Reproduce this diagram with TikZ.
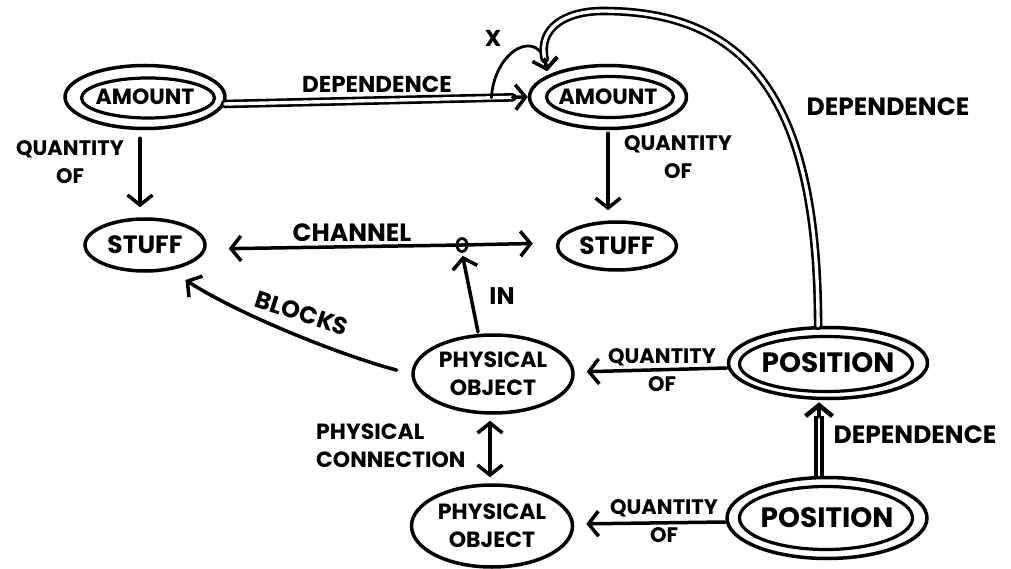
\documentclass[tikz,border=0pt]{standalone}
\usepackage{fontspec}
\setmainfont{Poppins}
\usetikzlibrary{shapes.geometric,arrows.meta,calc}

\tikzset{barb/.tip={Straight Barb[length=10pt, width=25pt]}}

\begin{document}
\begin{tikzpicture}[x=1pt,y=-1pt,
  ink/.style={line width=3.5pt, line cap=round, line join=round},
  fs/.style={font=\bfseries\fontsize{#1}{28}\selectfont},
  blob/.style={ellipse, draw, ink, inner xsep=-30pt, inner ysep=-6pt},
  ring/.style={ink, line width=3.2pt},
  arr/.style={ink, -{barb}},
  dbl/.style={line width=2.6pt, double=white, double distance=3.4pt, line cap=round},
  lbl/.style={align=center, inner sep=0pt}
]
\useasboundingbox (0,0) rectangle (1011,569);

% concept nodes
\node[blob, minimum width=160pt, minimum height=63pt, fs=22] (a1) at (145,97) {AMOUNT};
\draw[ring] (148,98) ellipse [x radius=66.5, y radius=20];
\node[blob, minimum width=157pt, minimum height=63pt, fs=22] (a2) at (608,97) {AMOUNT};
\draw[ring] (610,97) ellipse [x radius=63.5, y radius=20.5];
\node[blob, minimum width=120pt, minimum height=52pt, fs=25] (s1) at (145,245) {STUFF};
\node[blob, minimum width=119pt, minimum height=48pt, fs=25] (s2) at (617,246) {STUFF};
\node[blob, minimum width=160pt, minimum height=78pt, fs=22, align=center] (p1) at (493,374) {PHYSICAL\\OBJECT};
\node[blob, minimum width=161pt, minimum height=82pt, fs=22, align=center] (p2) at (492,526) {PHYSICAL\\OBJECT};
\node[blob, minimum width=199pt, minimum height=71pt, fs=28] (q1) at (828,363) {POSITION};
\draw[ring] (826,364) ellipse [x radius=86.5, y radius=27.5];
\node[blob, minimum width=200pt, minimum height=81pt, fs=28] (q2) at (827,518) {POSITION};
\draw[ring] (826,518) ellipse [x radius=86.5, y radius=31.5];

% channel junction
\node[ellipse, draw, line width=2.8pt, minimum width=10pt, minimum height=13pt, inner sep=0pt] (ch) at (462,245) {};

% helper points where double shafts hand over to their arrow heads
\path (a1.-5) -- (a2.west) coordinate[pos=0.95] (a2pre);
\path (a1.-5) -- (a2.west) coordinate[pos=0.88] (xs);
\coordinate (a2top) at ($(a2.160)+(-3,-16)$);
\coordinate (q1pre) at ($(q1.south)+(-9,16)$);

% dependence links
\draw[dbl] (a1.-5) -- (a2pre);
\draw[arr] (a2pre) -- (a2.west);
\draw[ink, line width=2.8pt, -{barb}, shorten >=4pt] (xs) .. controls (494,50) and (540,25) .. (a2.160);
\draw[dbl] (q1.105) .. controls (818,107) and (753,11) .. (603,11)
      .. controls (565,11) and (538,28) .. (a2top);
\draw[arr, shorten >=4pt] (a2top) -- (a2.160);
\draw[line width=3.8pt, double=white, double distance=1.6pt] (q2.north -| q1pre) -- (q1pre);
\draw[ink, line width=4.5pt, -{Straight Barb[length=11pt, width=27pt]}, shorten >=2pt] (q1pre) -- (q1.south -| q1pre);

% quantity links
\draw[arr, shorten <=8pt, shorten >=10pt] ($(a1.south)+(-5,0)$) -- ($(s1.north)+(-5,0)$);
\draw[arr, shorten <=3pt, shorten >=10pt] (a2.south) -- (a2.south |- s2.north);
\draw[arr, shorten >=12pt] ($(q1.west)+(0,5)$) -- ($(p1.east)+(0,-2)$);
\draw[arr, shorten >=12pt] ($(q2.west)+(0,4)$) -- ($(p2.east)+(0,-2)$);

% channel, in, blocks, connection
\draw[arr, shorten >=22pt] (ch.center) -- ($(s1.east)+(0,4)$);
\draw[arr, shorten >=23pt] (ch.center) -- ($(s2.west)+(0,-3)$);
\draw[arr, shorten <=2pt, shorten >=3pt] (p1.110) -- (ch.south);
\draw[arr, shorten <=15pt, shorten >=18pt] (p1.west) .. controls (340,355) and (240,315) .. (s1.-45);
\draw[ink, {barb}-{barb}, shorten <=6pt, shorten >=6pt] ($(p1.south)+(-3,0)$) -- ($(p2.north)+(-2,0)$);

% labels
\node[lbl, fs=23] (ldep1) at (377,84) {DEPENDENCE};
\node[lbl, fs=23] (lx) at (493,38) {X};
\node[lbl, fs=25] (ldep2) at (888,107) {DEPENDENCE};
\node[lbl, fs=25] (ldep3) at (915,435) {DEPENDENCE};
\node[lbl, fs=21] (lq1) at (70,162) {QUANTITY\\OF};
\node[lbl, fs=21] (lq2) at (678,157) {QUANTITY\\OF};
\node[lbl, fs=21] (lq3) at (662,370) {QUANTITY\\OF};
\node[lbl, fs=21] (lq4) at (664,521) {QUANTITY\\OF};
\node[lbl, fs=25] (lch) at (352,233) {CHANNEL};
\node[lbl, fs=24] (lin) at (502,296) {IN};
\node[lbl, fs=24, rotate=-18] (lblk) at (302,313) {BLOCKS};
\node[lbl, fs=22, anchor=west, align=left] (lpc) at (316,446) {PHYSICAL\\CONNECTION};
\end{tikzpicture}
\end{document}
